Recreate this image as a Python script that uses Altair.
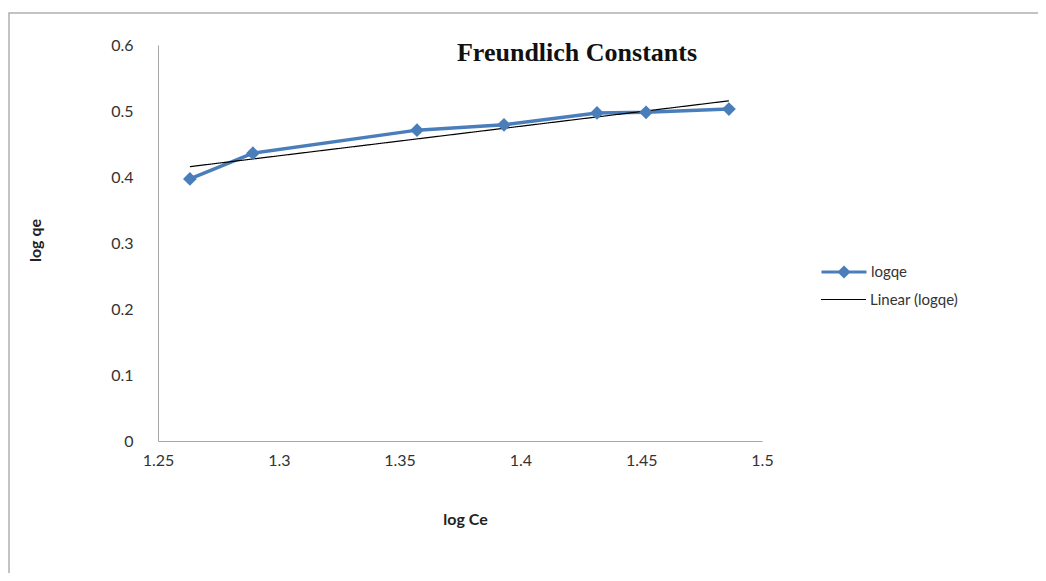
import altair as alt
import pandas as pd

log_ce = [1.2632, 1.2893, 1.3572, 1.3932, 1.4317, 1.4520, 1.4863]
log_qe = [0.397, 0.436, 0.471, 0.479, 0.497, 0.498, 0.503]
series_names = ["logqe", "Linear (logqe)"]
series_colors = ["#4a7ebb", "#000000"]
x_ticks = [1.25, 1.3, 1.35, 1.4, 1.45, 1.5]
y_ticks = [0, 0.1, 0.2, 0.3, 0.4, 0.5, 0.6]

df = pd.DataFrame({"x": log_ce, "y": log_qe})

FONT = "Lato"
BLUE = series_colors[0]
BLACK = series_colors[1]

xenc = alt.X(
    "x:Q",
    scale=alt.Scale(domain=[1.25, 1.5], nice=False, zero=False),
    axis=alt.Axis(
        values=x_ticks, format="~g", title="log Ce", grid=False, ticks=False,
        labelFlush=False, labelOverlap=False,
        labelFont=FONT, labelFontSize=16, labelColor="#333333", labelPadding=11,
        domainColor="#a6a6a6", titleFont=FONT, titleFontSize=16, titleFontWeight="bold",
        titleColor="#222222", titleX=307, titleY=78, titleBaseline="middle",
    ),
)
yenc = alt.Y(
    "y:Q",
    scale=alt.Scale(domain=[0, 0.6], nice=False),
    axis=alt.Axis(
        values=y_ticks, format="~g", title="log qe", grid=False, ticks=False,
        labelFlush=False, labelOverlap=False,
        labelFont=FONT, labelFontSize=16, labelColor="#333333", labelPadding=25,
        domainColor="#a6a6a6", titleFont=FONT, titleFontSize=16, titleFontWeight="bold",
        titleColor="#222222", titleX=-123, titleY=195, titleBaseline="middle",
    ),
)

frame = alt.Chart(pd.DataFrame({"a": [0]})).mark_rect(
    fill=None, stroke="#b0b0b0", strokeWidth=1.5
).encode(
    x=alt.value(-149), x2=alt.value(900), y=alt.value(-32), y2=alt.value(700)
)

line = alt.Chart(df).mark_line(strokeWidth=3.5, color=BLUE).encode(x=xenc, y=yenc)
points = alt.Chart(df).mark_point(
    shape="diamond", filled=True, size=190, opacity=1, color=BLUE
).encode(x="x:Q", y="y:Q")

legend_path = "M-1,0L1,0M0,-0.2L0.2,0L0,0.2L-0.2,0ZM0,-0.1L0.1,0L0,0.1L-0.1,0Z"

legend_a = (
    alt.Chart(df)
    .transform_filter("false")
    .transform_calculate(s_a="'logqe'")
    .mark_point(filled=False, color=BLUE)
    .encode(
        x="x:Q",
        y="y:Q",
        shape=alt.Shape(
            "s_a:N",
            scale=alt.Scale(domain=[series_names[0]], range=[legend_path]),
            legend=alt.Legend(
                title=None, orient="none", legendX=662, legendY=203,
                symbolSize=2025, symbolStrokeColor=BLUE,
                symbolStrokeWidth=3, symbolOpacity=1,
                labelFont=FONT, labelFontSize=15, labelColor="#333333", labelOffset=3,
            ),
        ),
    )
)

trend = (
    alt.Chart(df)
    .transform_regression("x", "y", method="linear")
    .transform_calculate(s_b="'Linear (logqe)'")
    .mark_line(strokeWidth=1.2, color=BLACK)
    .encode(
        x="x:Q",
        y="y:Q",
        strokeDash=alt.StrokeDash(
            "s_b:N",
            scale=alt.Scale(domain=[series_names[1]], range=[[1, 0]]),
            legend=alt.Legend(
                title=None, orient="none", legendX=662, legendY=231,
                symbolType="stroke", symbolSize=2025, symbolStrokeColor=BLACK,
                symbolStrokeWidth=1.2, symbolOpacity=1,
                labelFont=FONT, labelFontSize=15, labelColor="#333333", labelOffset=3,
            ),
        ),
    )
)

chart = (
    alt.layer(frame, line, trend, points, legend_a)
    .resolve_legend(shape="independent", strokeDash="independent")
    .properties(
        width=604,
        height=396,
        background="white",
        autosize=alt.AutoSizeParams(type="none"),
        padding={"left": 150, "top": 37, "right": 276, "bottom": 132},
        title=alt.TitleParams(
            "Freundlich Constants",
            font="Liberation Serif",
            fontSize=26,
            fontWeight="bold",
            color="#111111",
            anchor="middle",
            dx=117,
            offset=-54,
        ),
    )
    .configure_view(stroke=None)
)

chart.save("out.html", embed_options={"renderer": "svg", "actions": False})
